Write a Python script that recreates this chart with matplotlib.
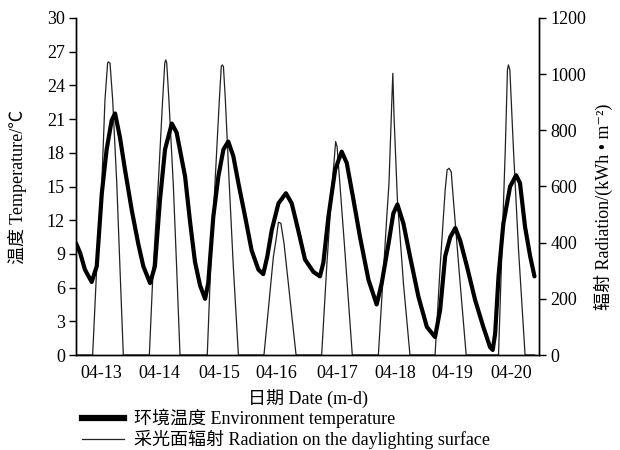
import numpy as np
from matplotlib import pyplot as plt
from matplotlib.lines import Line2D

plt.rcParams['font.family'] = ['Liberation Serif', 'Noto Sans CJK SC', 'DejaVu Sans']

# hours counted from 04-13 00:00
tempHours = [0, 1.7, 3.7, 6.5, 8.6, 10.7, 12.7, 14.8, 16.2, 18.2, 20.3, 23.1,
             25.8, 27.9, 30.7, 32.7, 34.8, 36.9, 39.7, 41.7, 45.2, 47.3, 49.3,
             51.4, 53.5, 54.8, 56.9, 59.0, 61.1, 63.1, 65.2, 67.3, 70.1, 72.8,
             75.6, 77.6, 79.3, 81.1, 83.9, 87.0, 89.4, 92.1, 94.9, 98.4, 101.1,
             102.5, 104.6, 107.4, 110.1, 112.2, 115.0, 117.7, 121.2, 124.6,
             126.7, 129.5, 131.5, 133.2, 135.7, 138.4, 141.9, 145.4, 148.8,
             150.9, 153.0, 155.1, 157.2, 159.2, 162.0, 165.4, 168.8, 171.6,
             172.7, 173.7, 175.1, 177.1, 179.9, 182.4, 184.0, 186.1, 188.2, 190.0]
tempValues = [9.95, 9.1, 7.6, 6.5, 7.9, 14.4, 18.3, 20.9, 21.5, 19.4, 16.5, 12.9,
              9.9, 7.9, 6.4, 7.9, 13.8, 18.3, 20.6, 19.8, 15.9, 11.8, 8.3,
              6.2, 5.0, 6.4, 12.3, 15.9, 18.3, 19.0, 17.7, 15.3, 12.3, 9.3,
              7.6, 7.2, 8.8, 11.1, 13.5, 14.4, 13.5, 11.1, 8.5, 7.4, 7.0,
              8.2, 12.3, 16.5, 18.1, 17.1, 13.8, 10.5, 6.7, 4.5,
              6.4, 9.9, 12.6, 13.4, 11.7, 8.8, 5.2, 2.5, 1.6,
              4.0, 8.8, 10.5, 11.3, 10.2, 7.9, 4.9, 2.5, 0.7,
              0.45, 1.9, 7.0, 11.7, 15.0, 16.0, 15.3, 11.4, 8.8, 7.0]

radHours = [0, 6.9, 8.6, 10.7, 12.0, 13.1, 13.4, 14.1, 15.2, 16.9, 18.2, 19.6,
            30.4, 32.0, 34.1, 35.9, 36.8, 37.2, 37.6, 38.5, 40.3, 41.7, 43.1,
            54.4, 55.8, 57.6, 59.4, 60.2, 60.6, 61.1, 61.9, 63.5, 65.2, 67.3,
            77.9, 81.8, 82.9, 83.9, 84.9, 86.2, 91.2,
            101.8, 103.9, 106.0, 107.6, 108.2, 111.4, 114.5,
            125.3, 128.8, 129.7, 130.9, 131.3, 131.8, 133.2, 135.7, 138.4,
            148.8, 150.9, 153.0, 153.8, 154.6, 155.5, 156.4, 159.2, 161.7,
            175.1, 176.5, 177.9, 178.8, 179.2, 179.8, 181.3, 183.4, 186.1, 190.0]
radValues = [0, 0, 314, 611, 908, 1039, 1044, 1039, 908, 611, 314, 0,
             0, 314, 611, 908, 1040, 1051, 1040, 908, 611, 314, 0,
             0, 314, 611, 908, 1027, 1033, 1027, 908, 611, 314, 0,
             0, 350, 410, 473, 469, 398, 0,
             0, 314, 588, 760, 742, 374, 0,
             0, 493, 611, 908, 1003, 849, 552, 255, 0,
             0, 314, 588, 659, 665, 652, 552, 255, 0,
             0, 374, 730, 1015, 1033, 1015, 730, 374, 0, 0]

dateLabels = ['04-13', '04-14', '04-15', '04-16', '04-17', '04-18', '04-19', '04-20']
dateTicks = [10.6, 34.4, 59.3, 83.2, 108.1, 132.1, 156.1, 180.2]

fig = plt.figure(figsize=(6.2, 4.5), dpi=100)
ax = fig.add_axes([76 / 620, 1 - 355 / 450, 463.3 / 620, 337 / 450])
ax2 = ax.twinx()

# thin radiation line behind, thick temperature on top
ax.set_zorder(ax2.get_zorder() + 1)
ax.patch.set_visible(False)

ax2.plot(radHours, radValues, color='#222222', lw=0.9)
ax.plot(tempHours, tempValues, color='black', lw=3.0,
        solid_joinstyle='round', solid_capstyle='round')

ax.set_xlim(0, 192)
ax.set_ylim(0, 30)
ax2.set_ylim(0, 1200)
ax.set_yticks(np.arange(0, 31, 3))
ax2.set_yticks(np.arange(0, 1201, 200))
ax.set_xticks(dateTicks)
ax.set_xticklabels(dateLabels)

for a in (ax, ax2):
    a.spines['top'].set_visible(False)
    for s in a.spines.values():
        s.set_linewidth(1.0)
ax.tick_params(axis='y', direction='out', length=5, width=1, labelsize=13, pad=3)
ax2.tick_params(axis='y', direction='out', length=5, width=1, labelsize=13, pad=3)
ax.tick_params(axis='x', length=0, labelsize=13, pad=7)

ax.set_ylabel('温度 Temperature/℃', fontsize=13)
ax.yaxis.set_label_coords(-0.106, 0.5)
ax2.set_ylabel('辐射 Radiation/(kWh • m⁻²)', fontsize=13)
ax2.yaxis.set_label_coords(1.118, 0.44)
ax.set_xlabel('日期 Date (m-d)', fontsize=13, labelpad=5)

handles = [Line2D([], [], color='black', lw=4.5),
           Line2D([], [], color='#222222', lw=0.9)]
labels = ['环境温度 Environment temperature',
          '采光面辐射 Radiation on the daylighting surface']
fig.legend(handles, labels, loc='upper left', bbox_to_anchor=(82 / 620, 1 - 409 / 450),
           frameon=False, fontsize=13, handlelength=2.3, handletextpad=0.6,
           labelspacing=0.1, borderpad=0, borderaxespad=0)

fig.savefig('out.png', dpi=100)
